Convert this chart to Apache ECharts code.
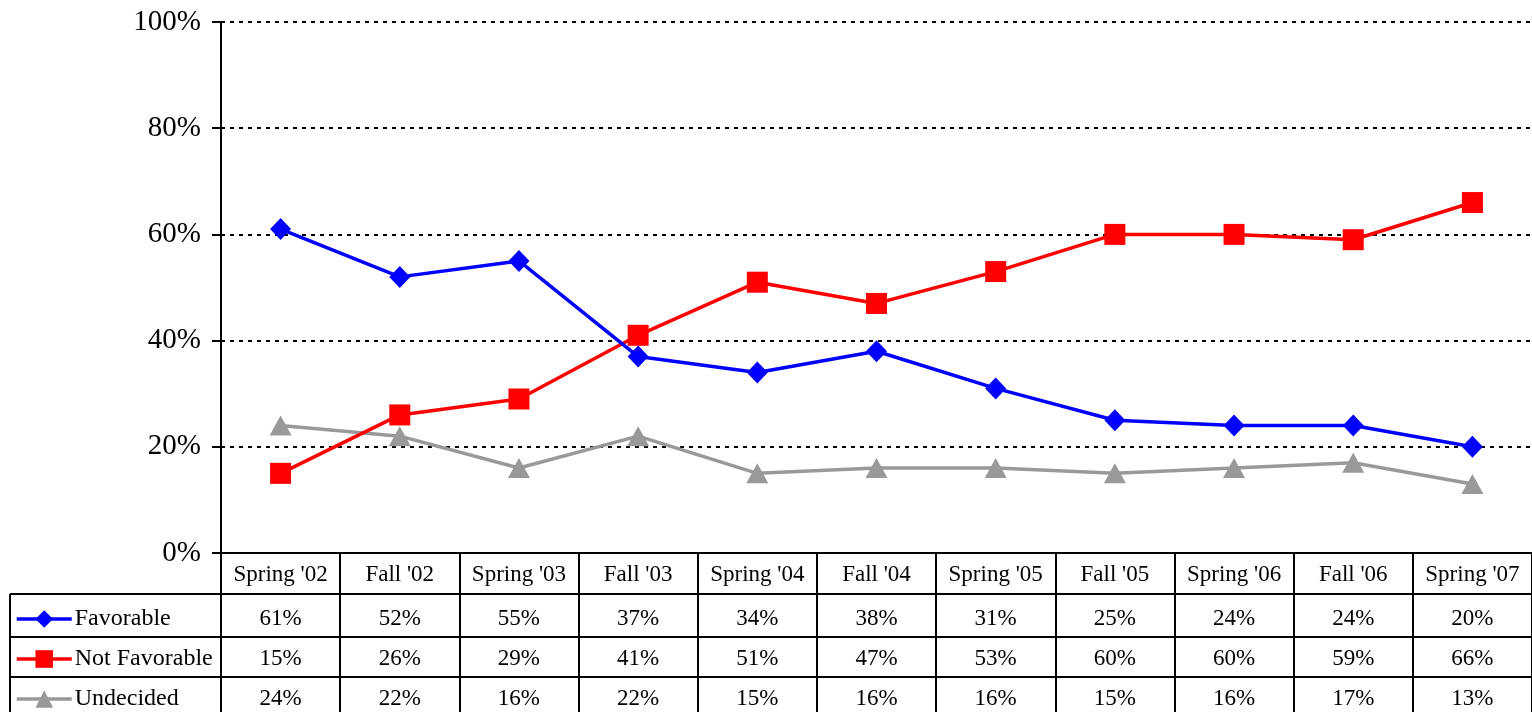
<!DOCTYPE html>
<html>
<head>
<meta charset="utf-8">
<script src="https://cdn.jsdelivr.net/npm/echarts@6/dist/echarts.min.js"></script>
<style>
  html, body { margin: 0; padding: 0; background: #fff; }
  #chart { width: 1532px; height: 712px; }
</style>
</head>
<body>
<div id="chart"></div>
<script>
const categories = ["Spring '02", "Fall '02", "Spring '03", "Fall '03", "Spring '04", "Fall '04",
  "Spring '05", "Fall '05", "Spring '06", "Fall '06", "Spring '07"]
const favorable = [61, 52, 55, 37, 34, 38, 31, 25, 24, 24, 20]
const notFavorable = [15, 26, 29, 41, 51, 47, 53, 60, 60, 59, 66]
const undecided = [24, 22, 16, 22, 15, 16, 16, 15, 16, 17, 13]
const seriesNames = ['Favorable', 'Not Favorable', 'Undecided']
const yTicks = [0, 20, 40, 60, 80, 100]

const FONT = '"Liberation Serif", "Times New Roman", serif'

// table layout (px)
const tableLeft = 10
const tableRight = 1532
const rowLines = [594, 637, 677]
const rowCenters = [619, 659, 699]

const chart = echarts.init(document.getElementById('chart'))

const seriesData = [favorable, notFavorable, undecided]
const seriesStyle = [
  { color: '#0000ff', symbol: 'diamond', size: [21, 22] },
  { color: '#ff0000', symbol: 'rect', size: 21 },
  { color: '#999999', symbol: 'triangle', size: [22, 20] }
]

chart.setOption({
  animation: false,
  grid: { left: 221, right: 0, top: 22, bottom: 159 },
  legend: seriesNames.map((name, i) => ({
    data: [name],
    left: 15,
    top: rowCenters[i] - 12,
    padding: 0,
    itemWidth: 55,
    itemHeight: 22,
    itemGap: 3,
    lineStyle: { width: 3.5 },
    textStyle: { fontFamily: FONT, fontSize: 24, color: '#000', lineHeight: 24, padding: [0, 0, 0, -2] }
  })),
  xAxis: {
    type: 'category',
    data: categories,
    boundaryGap: true,
    axisLine: { lineStyle: { color: '#000', width: 2 } },
    axisTick: { show: true, length: 159, lineStyle: { color: '#000', width: 2 } },
    axisLabel: { fontFamily: FONT, fontSize: 23, color: '#000', margin: 10, interval: 0 }
  },
  yAxis: {
    type: 'value',
    min: yTicks[0],
    max: yTicks[yTicks.length - 1],
    interval: 20,
    axisLine: { show: true, lineStyle: { color: '#000', width: 2 } },
    axisTick: { show: true, length: 9, lineStyle: { color: '#000', width: 2 } },
    axisLabel: { fontFamily: FONT, fontSize: 29, color: '#000', margin: 20, formatter: '{value}%' },
    splitLine: { show: true, lineStyle: { color: '#000', width: 2, type: [4, 5] } }
  },
  series: seriesNames.map((name, i) => ({
    name,
    type: 'line',
    data: seriesData[i],
    symbol: seriesStyle[i].symbol,
    symbolSize: seriesStyle[i].size,
    showSymbol: true,
    z: 3 - i,
    lineStyle: { color: seriesStyle[i].color, width: 3.5 },
    itemStyle: { color: seriesStyle[i].color }
  }))
})

// data table under the plot, positioned from the category axis
const graphics = []
rowLines.forEach((y) => {
  graphics.push({ type: 'line', shape: { x1: tableLeft, y1: y, x2: tableRight, y2: y }, style: { stroke: '#000', lineWidth: 2 } })
})
graphics.push({ type: 'line', shape: { x1: tableLeft, y1: rowLines[0], x2: tableLeft, y2: 712 }, style: { stroke: '#000', lineWidth: 2 } })
seriesData.forEach((values, r) => {
  values.forEach((v, i) => {
    const x = chart.convertToPixel({ xAxisIndex: 0 }, i)
    graphics.push({
      type: 'text',
      x, y: rowCenters[r],
      style: { text: v + '%', fontFamily: FONT, fontSize: 23, fill: '#000', align: 'center', verticalAlign: 'middle' }
    })
  })
})
chart.setOption({ graphic: graphics })
</script>
</body>
</html>
